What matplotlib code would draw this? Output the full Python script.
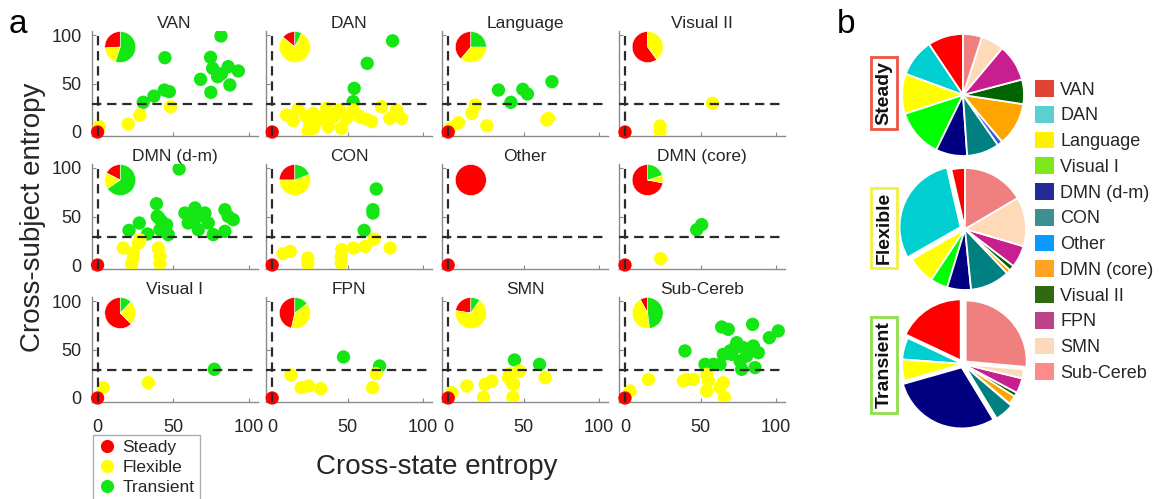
import matplotlib
matplotlib.use("Agg")
import matplotlib.pyplot as plt
from matplotlib.lines import Line2D
from matplotlib.patches import Patch

plt.rcParams['font.family'] = ['Liberation Sans', 'DejaVu Sans']

# ---------------- DATA: panel a ----------------
panel_names = ['VAN', 'DAN', 'Language', 'Visual II',
               'DMN (d-m)', 'CON', 'Other', 'DMN (core)',
               'Visual I', 'FPN', 'SMN', 'Sub-Cereb']

# steady nodes all sit at (0, 0)
steady_x = [0]
steady_y = [0]

VAN_flex_x = [48.3, 28.0, 20.3, 1.1]
VAN_flex_y = [26.0, 17.5, 8.2, 5.5]
VAN_trans_x = [81.7, 44.6, 74.8, 76.2, 79.5, 86.5, 93.2, 87.6, 68.2, 75.0, 44.2, 47.5, 37.3, 30.2, 82.0]
VAN_trans_y = [99.0, 76.6, 77.0, 65.6, 57.0, 67.4, 62.9, 48.5, 54.3, 40.9, 43.3, 41.6, 37.0, 30.6, 60.0]

DAN_flex_x = [9.5, 13.9, 17.2, 22.7, 24.9, 23.8, 27.2, 30.5, 36.0, 37.1, 40.4, 44.4, 45.9, 49.2,
              53.6, 58.0, 62.5, 65.8, 72.4, 77.9, 82.3, 85.7, 33.8, 27.2]
DAN_flex_y = [17.5, 11.7, 23.4, 15.8, 7.2, 1.0, 19.2, 12.4, 24.4, 5.5, 15.8, 22.7, 3.8, 14.1,
              22.7, 15.8, 13.1, 10.7, 26.1, 14.1, 22.7, 14.1, 15.8, 3.8]
DAN_trans_x = [79.7, 62.9, 54.3, 53.6]
DAN_trans_y = [94.0, 70.8, 45.0, 31.3]

LANG_flex_x = [17.9, 15.7, 6.8, 1.3, 25.6, 65.3, 66.4]
LANG_flex_y = [27.8, 19.2, 9.6, 3.8, 6.5, 12.4, 14.1]
LANG_trans_x = [68.7, 33.3, 49.4, 52.5, 41.5]
LANG_trans_y = [51.9, 43.3, 44.0, 39.2, 30.6]

VIS2_flex_x = [58.0, 23.2, 23.2]
VIS2_flex_y = [29.6, 6.2, 0.8]
VIS2_trans_x = []
VIS2_trans_y = []

DMNDM_flex_x = [17.0, 23.6, 27.0, 22.5, 23.6, 40.2, 41.3, 41.3, 28.0]
DMNDM_flex_y = [17.5, 12.4, 22.7, 0.8, 7.2, 17.5, 8.9, 1.4, 26.0]
DMNDM_trans_x = [54.0, 39.0, 40.6, 20.8, 27.6, 33.1, 39.5, 42.4, 45.7, 46.8, 57.8, 64.5, 64.5,
                 66.7, 71.1, 73.3, 76.6, 84.3, 84.3, 89.8, 60.0, 86.5, 41.3, 66.7]
DMNDM_trans_y = [99.0, 63.2, 48.5, 35.7, 43.3, 32.0, 50.2, 45.0, 41.6, 31.3, 53.6, 58.8, 48.5,
                 36.4, 53.6, 43.3, 31.3, 57.0, 34.7, 46.7, 43.3, 50.2, 36.4, 50.2]

CON_flex_x = [7.1, 11.9, 23.6, 23.6, 46.1, 45.7, 45.7, 53.9, 61.6, 67.5, 78.1]
CON_flex_y = [11.7, 14.1, 7.2, 1.0, 15.8, 8.9, 2.0, 17.5, 19.2, 26.8, 17.5]
CON_trans_x = [68.9, 66.7, 66.7, 60.9]
CON_trans_y = [78.4, 57.0, 53.6, 35.7]

OTHER_flex_x = []
OTHER_flex_y = []
OTHER_trans_x = []
OTHER_trans_y = []

DMNC_flex_x = [23.6]
DMNC_flex_y = [6.5]
DMNC_trans_x = [47.5, 50.8]
DMNC_trans_y = [36.4, 41.6]

VIS1_flex_x = [33.6, 3.8]
VIS1_flex_y = [15.8, 10.7]
VIS1_trans_x = [77.3]
VIS1_trans_y = [29.6]

FPN_flex_x = [12.4, 19.2, 24.1, 32.2, 68.9, 66.4]
FPN_flex_y = [23.7, 10.7, 12.4, 9.6, 25.0, 10.7]
FPN_trans_x = [47.2, 71.1]
FPN_trans_y = [42.3, 33.0]

SMN_flex_x = [2.4, 12.4, 24.5, 28.9, 23.4, 40.0, 42.2, 43.3, 47.2, 42.8, 64.2, 41.0]
SMN_flex_y = [5.5, 12.4, 14.1, 17.5, 0.8, 21.0, 15.8, 14.1, 27.8, 0.8, 21.0, 25.0]
SMN_trans_x = [43.9, 60.5]
SMN_trans_y = [39.2, 34.7]

SUB_flex_x = [3.3, 15.5, 38.6, 45.3, 54.1, 55.2, 54.1, 65.1, 62.9, 65.8, 40.8]
SUB_flex_y = [7.2, 19.2, 17.5, 19.2, 24.4, 17.5, 7.2, 15.8, 10.7, 0.8, 19.2]
SUB_trans_x = [39.7, 64.0, 68.4, 84.5, 101.5, 95.6, 74.0, 78.4, 85.0, 65.1, 70.6, 88.3, 76.2,
               62.9, 53.0, 58.5, 77.3, 86.1, 69.5, 80.6, 72.8]
SUB_trans_y = [48.5, 73.2, 70.8, 75.9, 69.1, 62.2, 57.0, 51.9, 53.6, 45.0, 45.0, 46.7, 38.1,
               34.7, 34.7, 34.7, 29.6, 31.3, 48.5, 43.3, 51.9]

flex_x = [VAN_flex_x, DAN_flex_x, LANG_flex_x, VIS2_flex_x, DMNDM_flex_x, CON_flex_x,
          OTHER_flex_x, DMNC_flex_x, VIS1_flex_x, FPN_flex_x, SMN_flex_x, SUB_flex_x]
flex_y = [VAN_flex_y, DAN_flex_y, LANG_flex_y, VIS2_flex_y, DMNDM_flex_y, CON_flex_y,
          OTHER_flex_y, DMNC_flex_y, VIS1_flex_y, FPN_flex_y, SMN_flex_y, SUB_flex_y]
trans_x = [VAN_trans_x, DAN_trans_x, LANG_trans_x, VIS2_trans_x, DMNDM_trans_x, CON_trans_x,
           OTHER_trans_x, DMNC_trans_x, VIS1_trans_x, FPN_trans_x, SMN_trans_x, SUB_trans_x]
trans_y = [VAN_trans_y, DAN_trans_y, LANG_trans_y, VIS2_trans_y, DMNDM_trans_y, CON_trans_y,
           OTHER_trans_y, DMNC_trans_y, VIS1_trans_y, FPN_trans_y, SMN_trans_y, SUB_trans_y]

# pie fractions per panel (steady, flexible, transient)
pie_a_steady = [0.26, 0.14, 0.39, 0.60, 0.175, 0.25, 1.00, 0.72, 0.625, 0.465, 0.225, 0.08]
pie_a_flexible = [0.19, 0.79, 0.36, 0.40, 0.17, 0.56, 0.00, 0.08, 0.255, 0.39, 0.68, 0.44]
pie_a_transient = [0.55, 0.07, 0.25, 0.00, 0.655, 0.19, 0.00, 0.20, 0.12, 0.145, 0.095, 0.48]

x_threshold = 0
y_threshold = 29

# ---------------- DATA: panel b ----------------
net_labels = ['VAN', 'DAN', 'Language', 'Visual I', 'DMN (d-m)', 'CON', 'Other',
              'DMN (core)', 'Visual II', 'FPN', 'SMN', 'Sub-Cereb']
b_steady = [0.094, 0.100, 0.106, 0.128, 0.083, 0.086, 0.014, 0.115, 0.065, 0.098, 0.061, 0.050]
b_flexible = [0.036, 0.296, 0.074, 0.046, 0.063, 0.105, 0.0, 0.011, 0.014, 0.058, 0.130, 0.165]
b_transient = [0.180, 0.058, 0.056, 0.0, 0.293, 0.051, 0.0, 0.023, 0.011, 0.040, 0.024, 0.264]
b_flex_explode = [0.0, 0.08, 0, 0, 0, 0, 0, 0, 0, 0, 0, 0.0]
b_trans_explode = [0.07, 0, 0, 0, 0.06, 0.05, 0, 0, 0, 0, 0, 0.06]

# ---------------- STYLE ----------------
C_STEADY = '#ff0000'
C_FLEX = '#ffff00'
C_TRANS = '#14e614'
pie_colors = ['#ff0000', '#00ced1', '#ffff00', '#00ff00', '#000080', '#008080', '#3a5fe0',
              '#ffa500', '#006400', '#c71f8f', '#ffdab9', '#f08080']
legend_colors = ['#e04434', '#5ccfd2', '#ffef00', '#7de81a', '#242a99', '#3d9090', '#0a9aff',
                 '#ffa422', '#2f6a12', '#bb4488', '#fcd9bd', '#ff8a8a']
TXT = '#262626'
SPINE = '#8a8a8a'

W, H = 1166, 499
fig = plt.figure(figsize=(W / 100, H / 100), dpi=100)


def fx(px):
    return px / W


def fy(py):
    return 1 - py / H


col_x0 = [97.6, 272.2, 448.2, 625.0]
row_y0 = [132.0, 265.0, 398.0]
sx, sy = 1.51, 0.97
XL, YL = (-4, 106), (-4, 104)

for i, name in enumerate(panel_names):
    r, c = divmod(i, 4)
    x0, y0 = col_x0[c], row_y0[r]
    ax = fig.add_axes([fx(x0 + XL[0] * sx), fy(y0 - YL[0] * sy),
                       (XL[1] - XL[0]) * sx / W, (YL[1] - YL[0]) * sy / H])
    ax.set_xlim(*XL)
    ax.set_ylim(*YL)
    for s in ['top', 'right']:
        ax.spines[s].set_visible(False)
    for s in ['left', 'bottom']:
        ax.spines[s].set_color(SPINE)
        ax.spines[s].set_linewidth(1.0)
    ax.set_xticks([0, 50, 100])
    ax.set_yticks([0, 50, 100])
    ax.tick_params(direction='in', length=3, color=SPINE, labelsize=13, labelcolor=TXT,
                   pad=7)
    ax.tick_params(axis='x', pad=12)
    if c != 0:
        ax.set_yticklabels([])
    if r != 2:
        ax.set_xticklabels([])
    ax.patch.set_alpha(0)
    ms = 92
    ax.scatter(trans_x[i], trans_y[i], s=ms, color=C_TRANS, edgecolors='none', zorder=2)
    ax.scatter(flex_x[i], flex_y[i], s=ms, color=C_FLEX, edgecolors='none', zorder=3)
    ax.scatter(steady_x, steady_y, s=ms, color=C_STEADY, edgecolors='none', zorder=4,
               clip_on=False)
    ax.axhline(y_threshold, color='#2a2a2a', lw=1.6, ls=(0, (4.2, 2.6)), zorder=5,
               clip_on=False)
    ax.axvline(x_threshold, color='#2a2a2a', lw=1.6, ls=(0, (4.2, 2.6)), zorder=5)
    ax.set_title(name, fontsize=12.5, color=TXT, pad=-2.5)

    # pie inset
    pr = 15.5
    pcx, pcy = x0 + 15 * sx, y0 - 87.6 * sy
    box = pr * 1.15
    pax = fig.add_axes([fx(pcx - box), fy(pcy + box), 2 * box / W, 2 * box / H])
    vals = [pie_a_steady[i], pie_a_flexible[i], pie_a_transient[i]]
    cols = [C_STEADY, C_FLEX, C_TRANS]
    vv = [v for v in vals if v > 0]
    cc = [cl for v, cl in zip(vals, cols) if v > 0]
    pax.pie(vv, colors=cc, startangle=90, counterclock=True, radius=1.0,
            wedgeprops=dict(edgecolor='white', linewidth=0.4))
    pax.set_xlim(-1.15, 1.15)
    pax.set_ylim(-1.15, 1.15)
    pax.set_aspect('equal')
    pax.axis('off')

# legend for panel a
handles = [Line2D([], [], marker='o', ls='none', markersize=9.5, markerfacecolor=cl,
                  markeredgecolor='none') for cl in [C_STEADY, C_FLEX, C_TRANS]]
leg = fig.legend(handles, ['Steady', 'Flexible', 'Transient'], loc='upper left',
                 bbox_to_anchor=(fx(93), fy(435)), fontsize=12.5, frameon=True,
                 fancybox=False, edgecolor='#999999', borderpad=0.3, borderaxespad=0,
                 handlelength=1.0, handletextpad=0.4, labelspacing=0.26)
leg.get_frame().set_linewidth(1.0)
for t in leg.get_texts():
    t.set_color(TXT)

# axis labels
fig.text(fx(437), fy(467), 'Cross-state entropy', ha='center', va='center', fontsize=20,
         color=TXT)
fig.text(fx(33), fy(217), 'Cross-subject entropy', ha='center', va='center', fontsize=20,
         rotation=90, color=TXT)
fig.text(fx(9), fy(33), 'a', fontsize=24, color='black', va='baseline')
fig.text(fx(837), fy(33), 'b', fontsize=24, color='black', va='baseline')

# panel b pies
b_sets = [(b_steady, [0] * 12, 963, 95, 'Steady', '#ee5544', 93),
          (b_flexible, b_flex_explode, 965, 229, 'Flexible', '#f2f040', 228),
          (b_transient, b_trans_explode, 963, 364, 'Transient', '#8ee048', 365)]
R = 61
for vals, expl, cx, cy, lab, ecol, ly in b_sets:
    box = R * 1.25
    bax = fig.add_axes([fx(cx - box), fy(cy + box), 2 * box / W, 2 * box / H])
    idx = [k for k, v in enumerate(vals) if v > 0]
    bax.pie([vals[k] for k in idx], colors=[pie_colors[k] for k in idx],
            explode=[expl[k] for k in idx], startangle=90, counterclock=True, radius=1.0,
            wedgeprops=dict(edgecolor='white', linewidth=1.3))
    bax.set_xlim(-1.25, 1.25)
    bax.set_ylim(-1.25, 1.25)
    bax.set_aspect('equal')
    bax.axis('off')
    fig.text(fx(884), fy(ly), lab, rotation=90, ha='center', va='center', fontsize=14,
             fontweight='bold', color='#111111',
             bbox=dict(boxstyle='square,pad=0.22', fc='white', ec=ecol, lw=2))

# legend for panel b
bh = [Patch(facecolor=cl, edgecolor='none') for cl in legend_colors]
leg2 = fig.legend(bh, net_labels, loc='upper left', bbox_to_anchor=(fx(1035), fy(80)),
                  fontsize=13, frameon=False, borderpad=0, borderaxespad=0,
                  handlelength=1.05, handleheight=1.05, handletextpad=0.35,
                  labelspacing=0.40)
for t in leg2.get_texts():
    t.set_color(TXT)

fig.savefig('out.png', dpi=100)
